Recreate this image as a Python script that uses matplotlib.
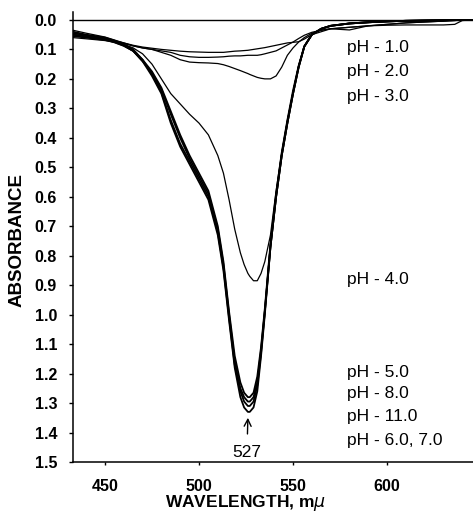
"""Absorption spectra of the dye at several pH values (reproduction)."""

from __future__ import annotations

import matplotlib

matplotlib.use("Agg")
import matplotlib.pyplot as plt

# Wavelength grid shared by all traces (m-mu)
WAVELENGTH = [
    433, 440, 450, 455, 460, 465, 470, 475, 480, 485,
    490, 495, 500, 505, 510, 513, 516, 519, 522, 524,
    526, 527, 529, 531, 533, 535, 538, 541, 544, 547,
    550, 553, 556, 560, 565, 570, 580, 590, 600, 610,
    620, 630, 636, 640, 645,
]

ABS_PH1 = [
    0.035, 0.045, 0.058, 0.068, 0.078, 0.086, 0.092, 0.096, 0.100, 0.103,
    0.106, 0.108, 0.109, 0.110, 0.110, 0.110, 0.108, 0.106, 0.105, 0.104,
    0.103, 0.102, 0.100, 0.098, 0.096, 0.094, 0.090, 0.086, 0.082, 0.078,
    0.076, 0.074, 0.065, 0.050, 0.040, 0.030, 0.025, 0.020, 0.018, 0.017,
    0.017, 0.017, 0.015, 0.002, 0.0,
]
ABS_PH2 = [
    0.050, 0.055, 0.063, 0.070, 0.078, 0.088, 0.095, 0.100, 0.105, 0.110,
    0.120, 0.125, 0.127, 0.127, 0.126, 0.125, 0.123, 0.122, 0.122, 0.121,
    0.120, 0.120, 0.120, 0.120, 0.118, 0.115, 0.110, 0.105, 0.095, 0.085,
    0.075, 0.063, 0.052, 0.042, 0.035, 0.030, 0.034, 0.020, 0.015, 0.010,
    0.007, 0.004, 0.002, 0.0, 0.0,
]
ABS_PH3 = [
    0.060, 0.064, 0.070, 0.075, 0.080, 0.088, 0.095, 0.100, 0.110, 0.120,
    0.135, 0.143, 0.145, 0.146, 0.148, 0.152, 0.158, 0.165, 0.172, 0.177,
    0.182, 0.185, 0.190, 0.195, 0.198, 0.200, 0.200, 0.190, 0.160, 0.120,
    0.095, 0.075, 0.060, 0.045, 0.035, 0.030, 0.025, 0.020, 0.015, 0.010,
    0.007, 0.004, 0.002, 0.0, 0.0,
]
ABS_PH4 = [
    0.050, 0.057, 0.066, 0.074, 0.083, 0.095, 0.115, 0.150, 0.200, 0.250,
    0.285, 0.320, 0.350, 0.390, 0.460, 0.520, 0.610, 0.710, 0.790, 0.830,
    0.860, 0.870, 0.885, 0.885, 0.860, 0.820, 0.730, 0.580, 0.450, 0.340,
    0.245, 0.155, 0.090, 0.050, 0.030, 0.020, 0.012, 0.008, 0.005, 0.003,
    0.002, 0.001, 0.0, 0.0, 0.0,
]
ABS_PH5 = [
    0.055, 0.060, 0.068, 0.076, 0.088, 0.105, 0.135, 0.175, 0.230, 0.310,
    0.390, 0.460, 0.520, 0.580, 0.700, 0.820, 0.990, 1.140, 1.230, 1.265,
    1.280, 1.280, 1.265, 1.210, 1.110, 0.980, 0.760, 0.590, 0.450, 0.340,
    0.240, 0.155, 0.090, 0.050, 0.030, 0.020, 0.012, 0.008, 0.005, 0.003,
    0.002, 0.001, 0.0, 0.0, 0.0,
]
ABS_PH8 = [
    0.050, 0.056, 0.066, 0.075, 0.087, 0.105, 0.140, 0.180, 0.235, 0.320,
    0.400, 0.470, 0.530, 0.590, 0.710, 0.830, 1.000, 1.160, 1.250, 1.280,
    1.295, 1.295, 1.280, 1.230, 1.120, 0.990, 0.770, 0.600, 0.460, 0.350,
    0.250, 0.160, 0.090, 0.050, 0.030, 0.020, 0.012, 0.008, 0.005, 0.003,
    0.002, 0.001, 0.0, 0.0, 0.0,
]
ABS_PH11 = [
    0.040, 0.050, 0.060, 0.070, 0.083, 0.100, 0.135, 0.185, 0.245, 0.340,
    0.420, 0.480, 0.540, 0.600, 0.720, 0.840, 1.010, 1.170, 1.260, 1.295,
    1.310, 1.310, 1.295, 1.240, 1.130, 0.990, 0.770, 0.600, 0.460, 0.350,
    0.250, 0.160, 0.090, 0.050, 0.030, 0.020, 0.012, 0.008, 0.005, 0.003,
    0.002, 0.001, 0.0, 0.0, 0.0,
]
ABS_PH6_7 = [
    0.045, 0.052, 0.062, 0.072, 0.085, 0.105, 0.140, 0.190, 0.250, 0.350,
    0.430, 0.490, 0.550, 0.610, 0.730, 0.850, 1.020, 1.180, 1.280, 1.315,
    1.330, 1.330, 1.315, 1.260, 1.140, 1.000, 0.770, 0.600, 0.460, 0.350,
    0.250, 0.160, 0.090, 0.050, 0.030, 0.020, 0.012, 0.008, 0.005, 0.003,
    0.002, 0.001, 0.0, 0.0, 0.0,
]

PH_LABELS = ["pH - 1.0", "pH - 2.0", "pH - 3.0", "pH - 4.0",
             "pH - 5.0", "pH - 8.0", "pH - 11.0", "pH - 6.0, 7.0"]
PH_LABEL_Y = [0.095, 0.176, 0.261, 0.882, 1.198, 1.269, 1.347, 1.428]
PEAK_NM = 527


def apply_plot_style() -> None:
    plt.rcdefaults()
    plt.rcParams.update(
        {
            "font.family": ["Liberation Sans", "DejaVu Sans"],
            "font.size": 11.5,
            "axes.linewidth": 1.1,
        }
    )


def plot_spectra() -> plt.Figure:
    fig = plt.figure(figsize=(4.73, 5.14), dpi=100)
    ax = fig.add_axes([0.1543, 0.1012, 0.8457, 0.8755])

    thin = [ABS_PH1, ABS_PH2, ABS_PH3, ABS_PH4]
    thick = [ABS_PH5, ABS_PH8, ABS_PH11, ABS_PH6_7]
    for series in thin:
        ax.plot(WAVELENGTH, series, color="black", linewidth=0.9)
    for series in thick:
        ax.plot(WAVELENGTH, series, color="black", linewidth=1.3)

    # baseline at zero absorbance
    ax.axhline(0.0, color="black", linewidth=1.0)

    ax.set_xlim(433, 645.7)
    ax.set_ylim(1.5, -0.027)
    ax.set_xticks([450, 500, 550, 600])
    ax.set_yticks([i / 10 for i in range(16)])
    ax.set_yticklabels([f"{i / 10:.1f}" for i in range(16)], fontweight="bold")
    ax.set_xticklabels(["450", "500", "550", "600"], fontweight="bold")
    ax.tick_params(axis="y", direction="out", length=3, width=1.0, pad=8.5)
    ax.tick_params(axis="x", direction="out", length=2.5, width=1.0, pad=9.5)

    for side in ("top", "right"):
        ax.spines[side].set_visible(False)

    ax.set_xlabel("WAVELENGTH, m$\\mu$", fontsize=12.5, fontweight="bold")
    ax.xaxis.set_label_coords(0.43, -0.069)
    ax.set_ylabel("ABSORBANCE", fontsize=13.5, fontweight="bold")
    ax.yaxis.set_label_coords(-0.118, 0.493)

    for text, y in zip(PH_LABELS, PH_LABEL_Y):
        ax.text(578.5, y, text, fontsize=12.5, va="center", ha="left")

    ax.annotate(
        str(PEAK_NM),
        xy=(PEAK_NM - 1, 1.35),
        xytext=(PEAK_NM - 1.5, 1.468),
        ha="center",
        va="center",
        fontsize=12.5,
        arrowprops=dict(arrowstyle="->", color="black", linewidth=1.0,
                        shrinkA=6, shrinkB=0),
    )
    return fig


def main() -> None:
    apply_plot_style()
    fig = plot_spectra()
    fig.savefig("out.png", dpi=100)
    plt.close("all")


if __name__ == "__main__":
    main()
